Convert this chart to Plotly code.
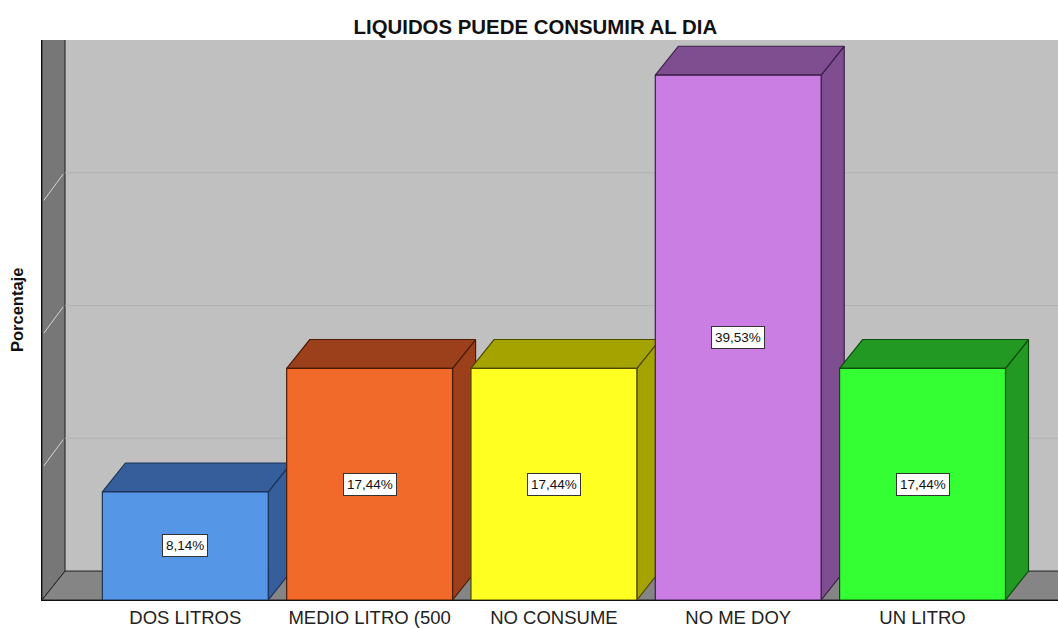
import plotly.graph_objects as go

# Frequency table: share of respondents by daily liquid intake
categories = ["DOS LITROS", "MEDIO LITRO (500", "NO CONSUME", "NO ME DOY", "UN LITRO"]
porcentajes = [8.14, 17.44, 17.44, 39.53, 17.44]

# Face colours for each bar: front face, shaded top/side faces, outline
front_colors = ["#5596E6", "#F26A2A", "#FFFF22", "#CA7EE3", "#33FF33"]
shade_colors = ["#355E9A", "#9C401B", "#A5A300", "#7E4E90", "#229922"]
edge_colors = ["#1c3358", "#4a1c08", "#4d4a00", "#3b1f47", "#0d4d0d"]

TITLE = "LIQUIDOS PUEDE CONSUMIR AL DIA"
Y_TITLE = "Porcentaje"
wall_max = 40
grid_values = [10, 20, 30]

# 3-D projection settings (in axis units)
BAR_WIDTH = 0.9
DEPTH_X = 0.125
DEPTH_Y = 2.18
X_MIN, X_MAX = -0.7775, 4.735
Y_TOP = wall_max + DEPTH_Y

FONT = "Liberation Sans, Arial, sans-serif"


def poly_path(points):
    return "M " + " L ".join(f"{x},{y}" for x, y in points) + " Z"


fig = go.Figure()

# Walls of the box: left wall and floor, plus gridlines
shapes = []
x_far = X_MAX + 1
shapes.append(dict(type="path", layer="below", xref="x", yref="y",
                   path=poly_path([(X_MIN, 0), (X_MIN + DEPTH_X, DEPTH_Y),
                                   (X_MIN + DEPTH_X, Y_TOP + 5), (X_MIN, Y_TOP + 5)]),
                   fillcolor="#777777", line=dict(color="#222222", width=1)))
shapes.append(dict(type="path", layer="below", xref="x", yref="y",
                   path=poly_path([(X_MIN, 0), (x_far, 0),
                                   (x_far + DEPTH_X, DEPTH_Y), (X_MIN + DEPTH_X, DEPTH_Y)]),
                   fillcolor="#858585", line=dict(color="#222222", width=1)))
for g in grid_values:
    shapes.append(dict(type="line", layer="below", xref="x", yref="y",
                       x0=X_MIN + DEPTH_X, x1=x_far, y0=g + DEPTH_Y, y1=g + DEPTH_Y,
                       line=dict(color="#b2b2b2", width=1)))
    shapes.append(dict(type="line", layer="below", xref="x", yref="y",
                       x0=X_MIN + 0.01, x1=X_MIN + DEPTH_X - 0.01, y0=g + 0.1, y1=g + DEPTH_Y - 0.1,
                       line=dict(color="#d4d4d4", width=1)))

# Bars drawn left to right so each one overlaps the shaded side of the previous one
for i, (v, fc, sc, ec) in enumerate(zip(porcentajes, front_colors, shade_colors, edge_colors)):
    xl, xr = i - BAR_WIDTH / 2, i + BAR_WIDTH / 2
    faces = [
        [(xr, 0), (xr + DEPTH_X, DEPTH_Y), (xr + DEPTH_X, v + DEPTH_Y), (xr, v), (xr, 0)],
        [(xl, v), (xr, v), (xr + DEPTH_X, v + DEPTH_Y), (xl + DEPTH_X, v + DEPTH_Y), (xl, v)],
        [(xl, 0), (xr, 0), (xr, v), (xl, v), (xl, 0)],
    ]
    colors = [sc, sc, fc]
    for pts, col in zip(faces, colors):
        fig.add_trace(go.Scatter(
            x=[p[0] for p in pts], y=[p[1] for p in pts],
            mode="lines", fill="toself", fillcolor=col,
            line=dict(color=ec, width=1.2),
            hoverinfo="skip", showlegend=False,
        ))

# Value labels centred on each bar's front face
annotations = []
for i, v in enumerate(porcentajes):
    annotations.append(dict(
        x=i, y=v / 2, xref="x", yref="y",
        text=f"{v:.2f}".replace(".", ",") + "%",
        showarrow=False, bgcolor="white", bordercolor="#333333",
        borderwidth=1, borderpad=3,
        font=dict(family=FONT, size=13.5, color="#111111"),
    ))

annotations.append(dict(
    text=f"<b>{Y_TITLE}</b>", textangle=-90, showarrow=False,
    xref="paper", yref="paper", x=0, y=0.5, xshift=-25, yshift=10,
    xanchor="center", yanchor="middle",
    font=dict(family=FONT, size=16.5, color="#111111"),
))

fig.update_layout(
    width=1058, height=628,
    margin=dict(l=42, r=0, t=40, b=28, autoexpand=False),
    paper_bgcolor="white",
    plot_bgcolor="#C0C0C0",
    title=dict(text=f"<b>{TITLE}</b>", x=0.506, xanchor="center",
               y=1 - 27 / 628, yanchor="middle", yref="container",
               font=dict(family=FONT, size=20.4, color="#111111")),
    xaxis=dict(range=[X_MIN, X_MAX], tickvals=list(range(len(categories))),
               ticktext=categories, showgrid=False, zeroline=False,
               showline=True, linecolor="#111111", linewidth=1, ticks="",
               ticklabelstandoff=1, automargin=False,
               tickfont=dict(family=FONT, size=18.5, color="#222222")),
    yaxis=dict(range=[0, Y_TOP], showgrid=False, zeroline=False,
               showticklabels=False, ticks="", showline=True, automargin=False,
               linecolor="#111111", linewidth=1),
    shapes=shapes,
    annotations=annotations,
    showlegend=False,
)

fig.write_html("out.html")
